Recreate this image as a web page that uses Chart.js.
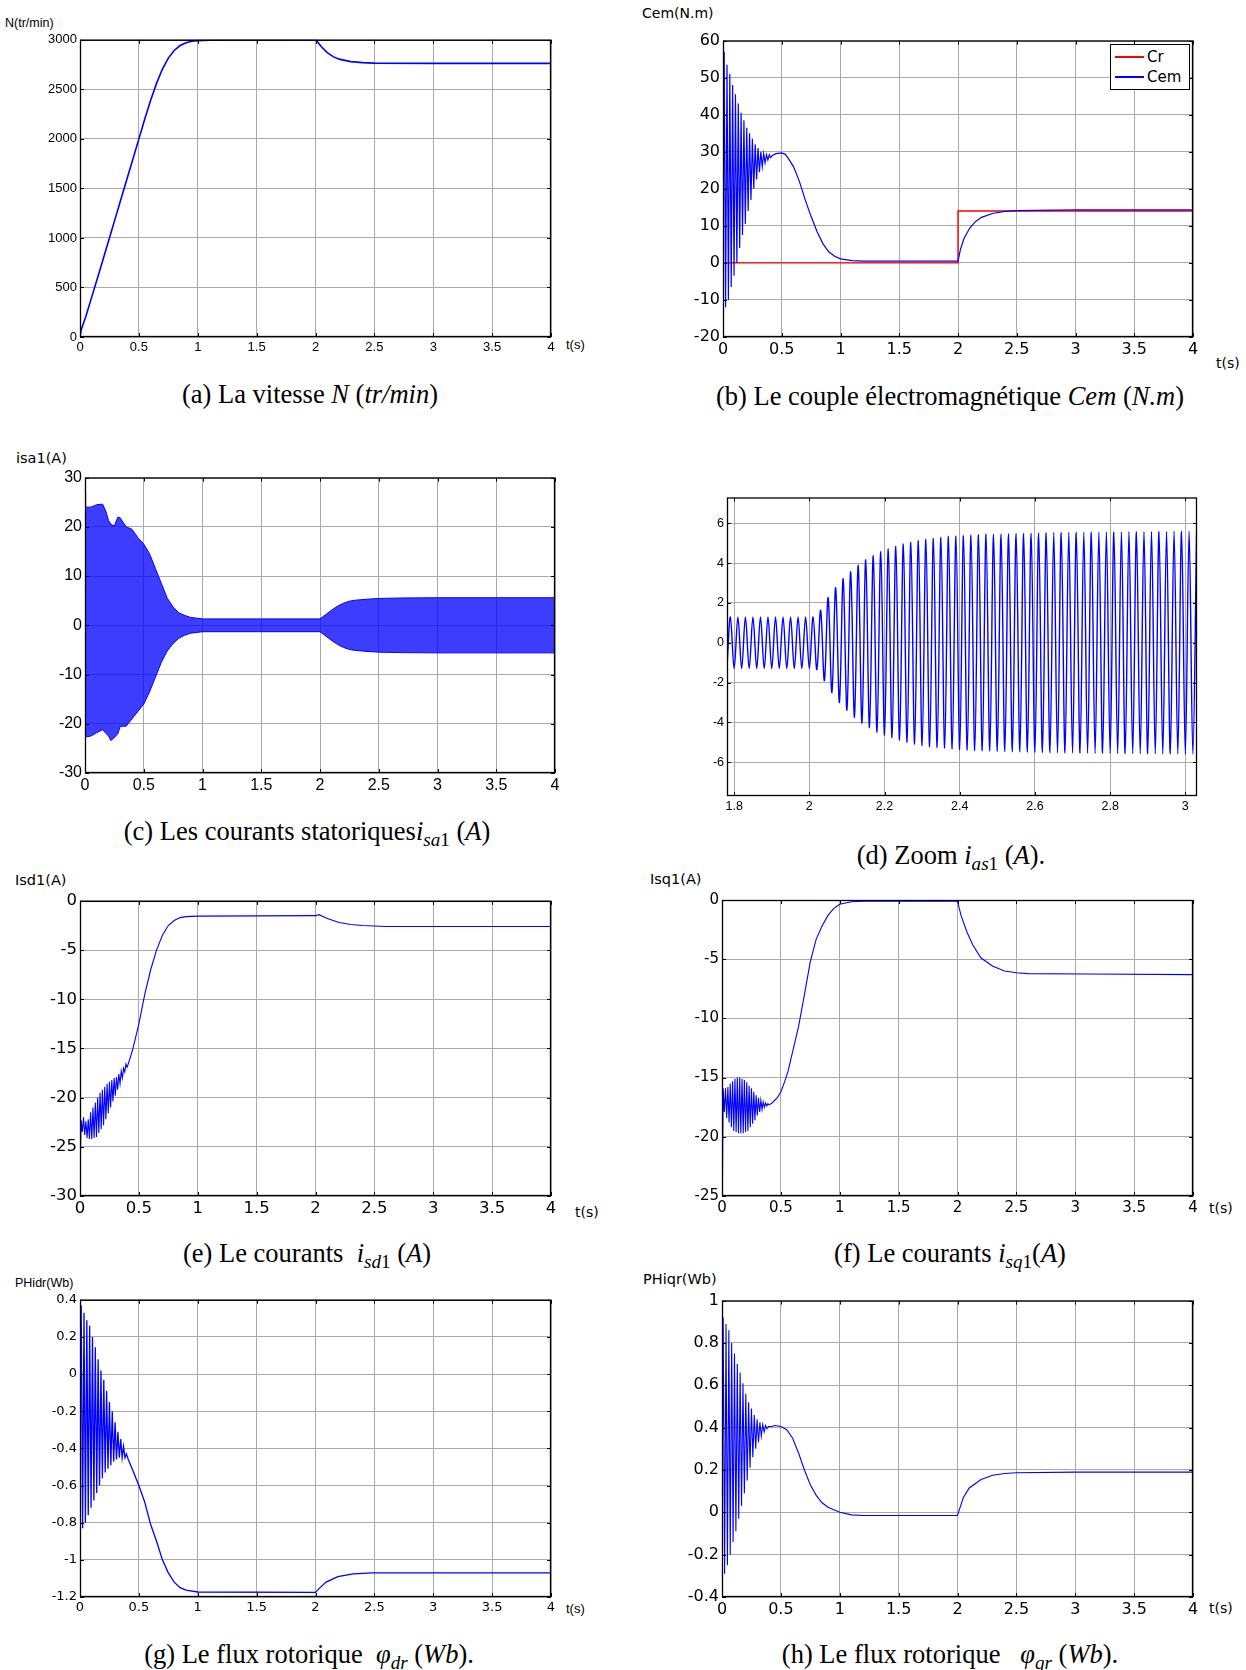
<!DOCTYPE html>
<html>
<head>
<meta charset="utf-8">
<title>Résultats de simulation</title>
<script src="https://cdn.jsdelivr.net/npm/chart.js@4.4.1/dist/chart.umd.min.js"></script>
<style>
  body { margin: 0; background: #fff; }
  #page { position: relative; width: 1246px; height: 1670px; overflow: hidden; background: #fff; }
  #page canvas { position: absolute; }
  .lbl { position: absolute; font-family: "DejaVu Sans", Arial, sans-serif; color: #000; white-space: nowrap; line-height: 1; transform: translateY(-50%); }
  .lbl.n { font-family: "Liberation Sans", Arial, sans-serif; }
  .cap { position: absolute; font-family: "Liberation Serif", "Times New Roman", serif; font-size: 26.5px; color: #000; white-space: nowrap; line-height: 1; transform: translate(-50%, -50%); }
  .cap sub { font-size: 0.72em; vertical-align: -0.35em; line-height: 0; }
  #legend { position: absolute; left: 1110px; top: 44px; width: 78px; height: 44px; border: 1.5px solid #000; background: #fff; z-index: 2; font-family: "DejaVu Sans", Arial, sans-serif; font-size: 15px; }
  #legend .sw { position: absolute; left: 4px; width: 29px; height: 1.5px; }
  #legend .tx { position: absolute; left: 36px; line-height: 1; transform: translateY(-50%); }
</style>
</head>
<body>
<div id="page">
  <div class="lbl n" style="left:5px;top:23px;font-size:12.5px">N(tr/min)</div>
  <div class="lbl n" style="left:566px;top:344px;font-size:13px">t(s)</div>
  <div class="cap" style="left:310px;top:394px">(a) La vitesse <i>N</i> (<i>tr/min</i>)</div>

  <div class="lbl" style="left:642px;top:13px;font-size:14px">Cem(N.m)</div>
  <div class="lbl" style="left:1216px;top:363px;font-size:14px">t(s)</div>
  <div class="cap" style="left:950px;top:396px">(b) Le couple électromagnétique <i>Cem</i> (<i>N.m</i>)</div>
  <div id="legend">
    <span class="sw" style="top:11px;background:#ff0000"></span><span class="tx" style="top:12px">Cr</span>
    <span class="sw" style="top:31px;background:#0000ff"></span><span class="tx" style="top:32px">Cem</span>
  </div>

  <div class="lbl" style="left:16px;top:458px;font-size:14.5px">isa1(A)</div>
  <div class="cap" style="left:307px;top:831px">(c) Les courants statoriques<i>i</i><sub><i>sa</i>1</sub> (<i>A</i>)</div>

  <div class="cap" style="left:951px;top:855px">(d) Zoom <i>i</i><sub><i>as</i>1</sub> (<i>A</i>).</div>

  <div class="lbl" style="left:15px;top:880px;font-size:14.5px">Isd1(A)</div>
  <div class="lbl" style="left:575px;top:1212px;font-size:14px">t(s)</div>
  <div class="cap" style="left:307px;top:1253px">(e) Le courants &nbsp;<i>i</i><sub><i>sd</i>1</sub> (<i>A</i>)</div>

  <div class="lbl" style="left:650px;top:879px;font-size:14.5px">Isq1(A)</div>
  <div class="lbl" style="left:1209px;top:1208px;font-size:14px">t(s)</div>
  <div class="cap" style="left:950px;top:1253px">(f) Le courants <i>i</i><sub><i>sq</i>1</sub>(<i>A</i>)</div>

  <div class="lbl n" style="left:15px;top:1283px;font-size:12.5px">PHidr(Wb)</div>
  <div class="lbl n" style="left:566px;top:1608px;font-size:13px">t(s)</div>
  <div class="cap" style="left:309px;top:1654px">(g) Le flux rotorique &nbsp;<i>φ</i><sub><i>dr</i></sub> (<i>Wb</i>).</div>

  <div class="lbl" style="left:643px;top:1279px;font-size:14.5px">PHiqr(Wb)</div>
  <div class="lbl" style="left:1209px;top:1608px;font-size:14px">t(s)</div>
  <div class="cap" style="left:950px;top:1654px">(h) Le flux rotorique &nbsp;&nbsp;<i>φ</i><sub><i>qr</i></sub> (<i>Wb</i>).</div>
</div>

<script>
// Graduations des axes
const xTicks = [0, 0.5, 1, 1.5, 2, 2.5, 3, 3.5, 4];
const nTicks = [0, 500, 1000, 1500, 2000, 2500, 3000];
const cemTicks = [-20, -10, 0, 10, 20, 30, 40, 50, 60];
const isaTicks = [-30, -20, -10, 0, 10, 20, 30];
const zoomXTicks = [1.8, 2, 2.2, 2.4, 2.6, 2.8, 3];
const zoomYTicks = [-6, -4, -2, 0, 2, 4, 6];
const isdTicks = [-30, -25, -20, -15, -10, -5, 0];
const isqTicks = [-25, -20, -15, -10, -5, 0];
const phdTicks = [-1.2, -1, -0.8, -0.6, -0.4, -0.2, 0, 0.2, 0.4];
const phqTicks = [-0.4, -0.2, 0, 0.2, 0.4, 0.6, 0.8, 1];

// Instants des oscillations de démarrage (crêtes / creux)
const osc40T = [0.010, 0.022, 0.034, 0.046, 0.058, 0.070, 0.082, 0.094, 0.106, 0.118, 0.130,
  0.142, 0.154, 0.166, 0.178, 0.190, 0.202, 0.214, 0.226, 0.238, 0.250, 0.262, 0.274,
  0.286, 0.298, 0.310, 0.322, 0.334, 0.346, 0.358, 0.370, 0.382, 0.394];
const osc50T = [0.01, 0.02, 0.03, 0.04, 0.05, 0.06, 0.07, 0.08, 0.09, 0.10,
  0.11, 0.12, 0.13, 0.14, 0.15, 0.16, 0.17, 0.18, 0.19, 0.20,
  0.21, 0.22, 0.23, 0.24, 0.25, 0.26, 0.27, 0.28, 0.29, 0.30,
  0.31, 0.32, 0.33, 0.34, 0.35, 0.36, 0.37, 0.38, 0.39, 0.40];

// (a) vitesse N
const nT = [0, 0.01, 0.05, 0.1, 0.15, 0.2, 0.25, 0.3, 0.35, 0.4, 0.45, 0.5, 0.55, 0.6, 0.65, 0.7, 0.75, 0.8, 0.85,
  0.9, 0.95, 1.0, 1.1, 1.2, 2.0, 2.02, 2.05, 2.1, 2.15, 2.2, 2.3, 2.4, 2.5, 3.0, 4.0];
const nV = [0, 70, 210, 405, 600, 800, 1000, 1200, 1400, 1600, 1800, 2000, 2200, 2390, 2560, 2705, 2815, 2892, 2942,
  2970, 2985, 2992, 2997, 3000, 3000, 2975, 2930, 2870, 2830, 2805, 2780, 2770, 2765, 2762, 2762];

// (b) couple Cem et couple résistant Cr
const cemT = [0, ...osc40T, 0.406, 0.42, 0.45, 0.5, 0.53, 0.55, 0.6, 0.65, 0.7, 0.75, 0.8, 0.85, 0.9, 0.95,
  1.0, 1.1, 1.2, 2.0, 2.02, 2.05, 2.1, 2.15, 2.2, 2.3, 2.4, 2.5, 3.0, 4.0];
const cemV = [0, 57, -12, 53.5, -10, 51, -6.5, 48, -3.5, 45.5, 0, 43, 4, 40.5, 7.5, 38.5, 10.5, 36.5, 14,
  35, 17, 33.5, 20, 32, 22.5, 31, 24.5, 30, 26, 29.5, 27, 29.2, 27.8, 29.2,
  28.4, 29.0, 29.5, 29.7, 29.3, 28.5, 26, 22, 17, 12.5, 8.5, 5.2, 3.0, 1.8,
  1.1, 0.6, 0.5, 0.5, 3.5, 6.5, 9.4, 11.2, 12.3, 13.4, 13.9, 14.1, 14.3, 14.3];
const crT = [0, 2, 2, 4];
const crV = [0, 0, 14, 14];

// (c) courant isa1 : enveloppes haute et basse
const isaT = [0, 0.005, 0.05, 0.1, 0.15, 0.18, 0.2, 0.22, 0.25, 0.28, 0.3, 0.35, 0.4, 0.45, 0.5, 0.55, 0.6,
  0.65, 0.7, 0.75, 0.8, 0.85, 0.9, 1.0, 2.0, 2.05, 2.1, 2.15, 2.2, 2.25, 2.3, 2.4, 2.5, 2.7, 3.0, 4.0];
const isaUp = [27, 24, 24, 24.5, 24.6, 23, 21.3, 20.5, 20.2, 22, 21.8, 20, 19.5, 17.8, 16.5, 14.5, 11.5,
  8.5, 5.5, 3.7, 2.5, 2.0, 1.6, 1.3, 1.3, 2.2, 3.1, 3.9, 4.5, 4.9, 5.1, 5.3, 5.45, 5.55, 5.6, 5.6];
const isaLo = [-22.7, -22.7, -22.5, -21.8, -21.2, -22, -22.5, -23.4, -22.8, -22, -20.5, -20.5, -19, -17.5, -16, -13.5, -10.5,
  -7.5, -5.2, -3.7, -2.6, -2.0, -1.6, -1.3, -1.3, -2.2, -3.1, -3.9, -4.5, -4.9, -5.1, -5.3, -5.45, -5.55, -5.6, -5.6];

// (d) zoom sur ias1
const zoomT = [1.781, 1.79,
  1.80, 1.81, 1.82, 1.83, 1.84, 1.85, 1.86, 1.87, 1.88, 1.89,
  1.90, 1.91, 1.92, 1.93, 1.94, 1.95, 1.96, 1.97, 1.98, 1.99,
  2.00, 2.01, 2.02, 2.03, 2.04, 2.05, 2.06, 2.07, 2.08, 2.09,
  2.10, 2.11, 2.12, 2.13, 2.14, 2.15, 2.16, 2.17, 2.18, 2.19,
  2.20, 2.21, 2.22, 2.23, 2.24, 2.25, 2.26, 2.27, 2.28, 2.29,
  2.30, 2.31, 2.32, 2.33, 2.34, 2.35, 2.36, 2.37, 2.38, 2.39,
  2.40, 2.41, 2.42, 2.43, 2.44, 2.45, 2.46, 2.47, 2.48, 2.49,
  2.50, 2.51, 2.52, 2.53, 2.54, 2.55, 2.56, 2.57, 2.58, 2.59,
  2.60, 2.61, 2.62, 2.63, 2.64, 2.65, 2.66, 2.67, 2.68, 2.69,
  2.70, 2.71, 2.72, 2.73, 2.74, 2.75, 2.76, 2.77, 2.78, 2.79,
  2.80, 2.81, 2.82, 2.83, 2.84, 2.85, 2.86, 2.87, 2.88, 2.89,
  2.90, 2.91, 2.92, 2.93, 2.94, 2.95, 2.96, 2.97, 2.98, 2.99,
  3.00, 3.01, 3.02, 3.03];
const zoomV = [-1.2, 1.3,
  -1.3, 1.3, -1.3, 1.3, -1.3, 1.3, -1.3, 1.3, -1.3, 1.3,
  -1.3, 1.3, -1.3, 1.3, -1.3, 1.3, -1.3, 1.3, -1.3, 1.3,
  -1.3, 1.3, -1.35, 1.64, -1.9, 2.27, -2.5, 2.77, -3.0, 3.22,
  -3.39, 3.57, -3.74, 3.89, -4.04, 4.17, -4.26, 4.37, -4.49, 4.57,
  -4.64, 4.71, -4.77, 4.84, -4.89, 4.96, -5.0, 5.04, -5.09, 5.13,
  -5.16, 5.19, -5.23, 5.24, -5.26, 5.29, -5.29, 5.34, -5.33, 5.36,
  -5.36, 5.38, -5.39, 5.41, -5.41, 5.43, -5.43, 5.45, -5.45, 5.46,
  -5.46, 5.47, -5.47, 5.48, -5.48, 5.49, -5.49, 5.5, -5.5, 5.51,
  -5.51, 5.52, -5.52, 5.53, -5.53, 5.54, -5.53, 5.54, -5.54, 5.55,
  -5.54, 5.55, -5.55, 5.56, -5.55, 5.56, -5.56, 5.56, -5.56, 5.57,
  -5.56, 5.57, -5.57, 5.57, -5.57, 5.58, -5.57, 5.58, -5.58, 5.58,
  -5.58, 5.59, -5.58, 5.59, -5.59, 5.59, -5.59, 5.6, -5.59, 5.6,
  -5.6, 5.6, -5.6, 5.6];

// (e) courant isd1
const isdT = [0, 0.003, ...osc50T, 0.42, 0.45, 0.5, 0.55, 0.6, 0.65, 0.7, 0.75, 0.8, 0.85, 0.9, 1.0,
  2.0, 2.03, 2.1, 2.2, 2.3, 2.4, 2.5, 2.6, 4.0];
const isdV = [0, -26,
  -22.3, -23.5, -22.0, -23.8, -22.4, -24.1, -22.2, -24.2, -21.5, -24.2,
  -21.0, -24.1, -20.5, -24.0, -20.0, -23.6, -19.5, -23.2, -19.2, -22.8,
  -18.9, -22.2, -18.6, -21.6, -18.4, -21.0, -18.2, -20.4, -18.0, -19.8,
  -17.9, -19.2, -17.6, -18.6, -17.3, -18.0, -17.0, -17.4, -16.6, -16.9,
  -16.2, -15.0, -12.5, -9.5, -7.0, -5.0, -3.5, -2.5, -2.0, -1.7, -1.6, -1.55,
  -1.5, -1.4, -1.8, -2.2, -2.4, -2.5, -2.55, -2.6, -2.6];

// (f) courant isq1
const isqT = [0, 0.003, ...osc50T, 0.43, 0.47, 0.5, 0.53, 0.56, 0.6, 0.65, 0.7, 0.75, 0.8, 0.85, 0.9, 0.95,
  1.0, 1.1, 1.2, 2.0, 2.03, 2.08, 2.13, 2.2, 2.3, 2.4, 2.5, 2.6, 3.1, 4.0];
const isqV = [0, -24.8,
  -15.9, -17.9, -15.9, -18.4, -15.8, -18.8, -15.5, -19.2, -15.3, -19.5,
  -15.1, -19.6, -15.0, -19.7, -15.0, -19.7, -15.1, -19.7, -15.2, -19.6,
  -15.4, -19.5, -15.7, -19.2, -15.9, -18.9, -16.2, -18.6, -16.5, -18.2,
  -16.7, -17.9, -16.9, -17.7, -17.05, -17.5, -17.15, -17.4, -17.2, -17.3,
  -17.1, -16.7, -16.2, -15.4, -14.5, -12.8, -10.7, -8.0, -5.2, -3.3, -2.2, -1.3, -0.7,
  -0.36, -0.15, -0.1, -0.1, -1.3, -2.7, -3.8, -4.9, -5.6, -6.0, -6.15, -6.22, -6.25, -6.3];

// (g) flux rotorique phi_dr
const phdT = [0, ...osc40T, 0.41, 0.45, 0.5, 0.55, 0.6, 0.65, 0.7, 0.75, 0.8, 0.85, 0.9, 1.0,
  2.0, 2.03, 2.09, 2.19, 2.32, 2.48, 4.0];
const phdV = [0, 0.37, -0.83, 0.33, -0.8, 0.29, -0.76, 0.26, -0.72, 0.2, -0.68, 0.145, -0.64,
  0.08, -0.6, 0.02, -0.56, -0.03, -0.53, -0.09, -0.51, -0.15, -0.49, -0.2, -0.47,
  -0.26, -0.46, -0.31, -0.45, -0.35, -0.45, -0.39, -0.45, -0.43,
  -0.46, -0.52, -0.6, -0.69, -0.81, -0.9, -1.0, -1.07, -1.12, -1.15, -1.163, -1.173,
  -1.175, -1.155, -1.12, -1.09, -1.075, -1.07, -1.07];

// (h) flux rotorique phi_qr
const phqT = [0, ...osc40T, 0.42, 0.45, 0.5, 0.55, 0.6, 0.65, 0.7, 0.75, 0.8, 0.85, 0.9, 1.0, 1.1, 1.2,
  2.0, 2.02, 2.05, 2.1, 2.2, 2.3, 2.4, 2.5, 3.0, 4.0];
const phqV = [0, 0.92, -0.29, 0.89, -0.25, 0.86, -0.2, 0.8, -0.14, 0.75, -0.09, 0.7, -0.03,
  0.66, 0.03, 0.61, 0.09, 0.56, 0.15, 0.52, 0.21, 0.49, 0.26, 0.46, 0.3,
  0.44, 0.33, 0.425, 0.36, 0.415, 0.38, 0.41, 0.395, 0.405,
  0.405, 0.41, 0.405, 0.39, 0.35, 0.28, 0.2, 0.13, 0.08, 0.045, 0.024, 0.0, -0.012, -0.015,
  -0.015, 0.02, 0.07, 0.115, 0.155, 0.175, 0.183, 0.187, 0.19, 0.19];

const BLUE = '#0000ff';
const RED = '#ff0000';
const SANS = '"Liberation Sans", Arial, sans-serif';
const WIDE = '"DejaVu Sans", Arial, sans-serif';

function pts(t, v) {
  return t.map((x, i) => ({ x: x, y: v[i] }));
}

// cadre noir + petites graduations intérieures, façon MATLAB
const boxPlugin = {
  id: 'matlabBox',
  afterDraw(chart) {
    const { ctx, chartArea: a, scales } = chart;
    ctx.save();
    ctx.strokeStyle = '#000';
    ctx.lineWidth = 1;
    ctx.beginPath();
    scales.x.ticks.forEach(t => {
      const px = Math.round(scales.x.getPixelForValue(t.value)) + 0.5;
      ctx.moveTo(px, a.bottom); ctx.lineTo(px, a.bottom - 4);
      ctx.moveTo(px, a.top); ctx.lineTo(px, a.top + 4);
    });
    scales.y.ticks.forEach(t => {
      const py = Math.round(scales.y.getPixelForValue(t.value)) + 0.5;
      ctx.moveTo(a.left, py); ctx.lineTo(a.left + 4, py);
      ctx.moveTo(a.right, py); ctx.lineTo(a.right - 4, py);
    });
    ctx.stroke();
    ctx.lineWidth = 1.3;
    ctx.strokeRect(a.left + 0.5, a.top + 0.5, a.right - a.left - 1, a.bottom - a.top - 1);
    ctx.restore();
  }
};

function makePanel(p) {
  const yW = 55, xH = 30, padT = 10, padR = 14;
  const [L, T, R, B] = p.box;
  const w = R - L + yW + padR, h = B - T + padT + xH;
  const cv = document.createElement('canvas');
  cv.width = w; cv.height = h;
  cv.style.left = (L - yW) + 'px';
  cv.style.top = (T - padT) + 'px';
  cv.style.width = w + 'px';
  cv.style.height = h + 'px';
  document.getElementById('page').appendChild(cv);

  const tickFont = { family: p.family || SANS, size: p.font };
  const axis = (min, max, ticks) => ({
    type: 'linear', min: min, max: max,
    afterBuildTicks: s => { s.ticks = ticks.map(v => ({ value: v })); },
    afterFit: s => { if (s.isHorizontal()) s.height = xH; else s.width = yW; },
    grid: { color: '#aaaaaa', lineWidth: 1, drawTicks: false },
    border: { display: false },
    ticks: { font: tickFont, color: '#000', padding: 3, autoSkip: false, maxRotation: 0, callback: v => String(v) }
  });

  new Chart(cv, {
    type: 'line',
    data: { datasets: p.datasets },
    options: {
      responsive: false,
      animation: false,
      devicePixelRatio: 1,
      layout: { padding: { top: padT, right: padR, left: 0, bottom: 0 } },
      plugins: { legend: { display: false }, tooltip: { enabled: false } },
      elements: { point: { radius: 0 }, line: { tension: 0 } },
      scales: { x: axis(p.xMin, p.xMax, p.xTicks), y: axis(p.yMin, p.yMax, p.yTicks) }
    },
    plugins: [boxPlugin]
  });
}

function line(t, v, color, width) {
  return { data: pts(t, v), borderColor: color, borderWidth: width || 1.2, fill: false, pointRadius: 0 };
}

makePanel({ box: [80, 39, 551, 337], font: 13, xMin: 0, xMax: 4, xTicks: xTicks, yMin: 0, yMax: 3000, yTicks: nTicks,
  datasets: [line(nT, nV, BLUE, 1.6)] });

makePanel({ box: [723, 38, 1193, 337], font: 16, family: WIDE, xMin: 0, xMax: 4, xTicks: xTicks, yMin: -20, yMax: 60, yTicks: cemTicks,
  datasets: [line(cemT, cemV, BLUE, 1.2), line(crT, crV, RED, 1.4)] });

makePanel({ box: [85, 475, 555, 773], font: 16, xMin: 0, xMax: 4, xTicks: xTicks, yMin: -30, yMax: 30, yTicks: isaTicks,
  datasets: [
    { data: pts(isaT, isaUp), borderColor: BLUE, borderWidth: 1, backgroundColor: 'rgba(0,0,255,0.76)', fill: '+1', pointRadius: 0 },
    { data: pts(isaT, isaLo), borderColor: BLUE, borderWidth: 1, fill: false, pointRadius: 0 }
  ] });

makePanel({ box: [727, 497, 1197, 796], font: 12.5, xMin: 1.781, xMax: 3.031, xTicks: zoomXTicks, yMin: -7.7, yMax: 7.3, yTicks: zoomYTicks,
  datasets: [Object.assign(line(zoomT, zoomV, BLUE, 1.4), { tension: 0.35 })] });

makePanel({ box: [80, 898, 551, 1196], font: 16.5, family: WIDE, xMin: 0, xMax: 4, xTicks: xTicks, yMin: -30, yMax: 0, yTicks: isdTicks,
  datasets: [line(isdT, isdV, BLUE, 1.1)] });

makePanel({ box: [722, 898, 1193, 1196], font: 15, family: WIDE, xMin: 0, xMax: 4, xTicks: xTicks, yMin: -25, yMax: 0, yTicks: isqTicks,
  datasets: [line(isqT, isqV, BLUE, 1.1)] });

makePanel({ box: [80, 1299, 551, 1597], font: 13, family: WIDE, xMin: 0, xMax: 4, xTicks: xTicks, yMin: -1.2, yMax: 0.4, yTicks: phdTicks,
  datasets: [line(phdT, phdV, BLUE, 1.3)] });

makePanel({ box: [722, 1298, 1193, 1597], font: 16, family: WIDE, xMin: 0, xMax: 4, xTicks: xTicks, yMin: -0.4, yMax: 1, yTicks: phqTicks,
  datasets: [line(phqT, phqV, BLUE, 1.1)] });
</script>
</body>
</html>
